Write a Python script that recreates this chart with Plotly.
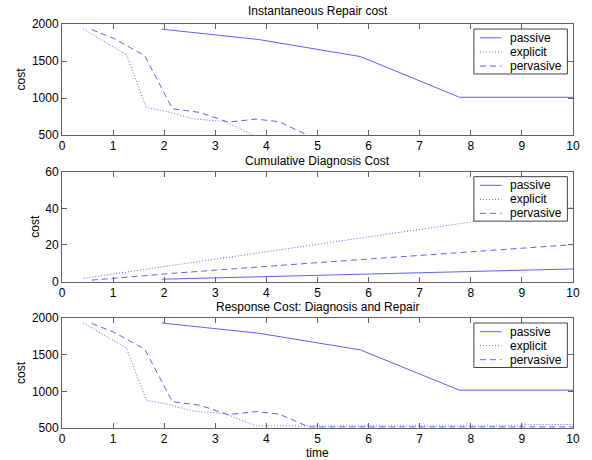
import plotly.graph_objects as go

# ---------------- data ----------------
panel_titles = ["Instantaneous Repair cost", "Cumulative Diagnosis Cost",
                "Response Cost: Diagnosis and Repair"]
series_names = ["passive", "explicit", "pervasive"]
x_ticks = [0, 1, 2, 3, 4, 5, 6, 7, 8, 9, 10]
cost_ticks = [500, 1000, 1500, 2000]
diag_ticks = [0, 20, 40, 60]

passive_time = [1.95, 3.85, 5.84, 7.78, 10.0]
passive_repair = [1930, 1790, 1560, 1010, 1010]
passive_diag = [1.3, 2.6, 4.0, 5.4, 6.9]
passive_response = [1932, 1792, 1565, 1015, 1015]

explicit_time = [0.42, 1.26, 1.65, 2.04, 2.56, 3.20, 3.80, 10.0]
explicit_repair = [1930, 1585, 870, 820, 720, 680, 480, 480]
explicit_diag = [1.8, 5.3, 6.8, 8.4, 10.5, 13.1, 15.5, 40.6]

explicit_resp_time = [0.42, 1.26, 1.65, 2.04, 2.56, 3.20, 3.80, 9.0, 9.0, 10.0]
explicit_response = [1932, 1590, 877, 828, 730, 693, 528, 530, 548, 548]

pervasive_time = [0.58, 1.03, 1.62, 2.16, 2.70, 3.25, 3.80, 4.25, 4.83, 10.0]
pervasive_repair = [1925, 1800, 1570, 855, 805, 675, 715, 680, 490, 490]
pervasive_diag = [0.8, 2.0, 3.2, 4.5, 5.6, 6.8, 8.0, 9.0, 10.0, 20.2]
pervasive_response = [1926, 1802, 1573, 859, 810, 682, 723, 689, 515, 515]

# ---------------- styling ----------------
BLUE = "rgb(95,95,255)"
AXC = "#606060"
FONT = "Arial, Liberation Sans, sans-serif"
DASH = {"passive": "solid", "explicit": "1px,2px", "pervasive": "6px,4px"}

fig = go.Figure()

panels = [
    ("x", "y", [(passive_time, passive_repair), (explicit_time, explicit_repair),
                (pervasive_time, pervasive_repair)]),
    ("x2", "y2", [(passive_time, passive_diag), (explicit_time, explicit_diag),
                  (pervasive_time, pervasive_diag)]),
    ("x3", "y3", [(passive_time, passive_response), (explicit_resp_time, explicit_response),
                  (pervasive_time, pervasive_response)]),
]
for xa, ya, series in panels:
    for name, (t, v) in zip(series_names, series):
        fig.add_trace(go.Scatter(x=t, y=v, mode="lines", name=name, showlegend=False,
                                 line=dict(color=BLUE, width=1, dash=DASH[name]),
                                 xaxis=xa, yaxis=ya))

common = dict(showline=True, linecolor=AXC, linewidth=1, mirror="ticks",
              ticks="inside", ticklen=5, tickcolor=AXC, tickwidth=1,
              showgrid=False, zeroline=False,
              tickfont=dict(family=FONT, size=12, color="black"))

domains = [[0.7252, 1.0], [0.3624, 0.6345], [0.0, 0.2723]]
yranges = [[500, 2000], [0, 60], [500, 2000]]
yticks = [cost_ticks, diag_ticks, cost_ticks]

layout = dict(width=592, height=460, margin=dict(l=62, r=17, t=24, b=32),
              paper_bgcolor="white", plot_bgcolor="white", showlegend=False,
              font=dict(family=FONT, size=12, color="black"))
for i in range(3):
    sfx = "" if i == 0 else str(i + 1)
    layout["xaxis" + sfx] = dict(common, domain=[0, 1], range=[0, 10], tickvals=x_ticks,
                                 anchor="y" + sfx)
    layout["yaxis" + sfx] = dict(common, domain=domains[i], range=yranges[i],
                                 tickvals=yticks[i], anchor="x" + sfx,
                                 title=dict(text="cost", font=dict(family=FONT, size=12),
                                            standoff=3))
fig.update_layout(**layout)

# titles and axis label
shapes = []
annotations = []
title_shift = [4, 2, 2]
for i, title in enumerate(panel_titles):
    sfx = "" if i == 0 else str(i + 1)
    annotations.append(dict(text=title, xref="x%s domain" % sfx, yref="y%s domain" % sfx,
                            x=0.5, y=1, xanchor="center", yanchor="bottom",
                            yshift=title_shift[i], showarrow=False,
                            font=dict(family=FONT, size=12, color="black")))
annotations.append(dict(text="time", xref="x3 domain", yref="y3 domain", x=0.5, y=0,
                        xanchor="center", yanchor="top", yshift=-16, showarrow=False,
                        font=dict(family=FONT, size=12, color="black")))

# legends (box, samples, labels) per panel, in panel-domain coordinates
PH = 110.0  # panel height in px
for i in range(3):
    sfx = "" if i == 0 else str(i + 1)
    xr, yr = "x%s domain" % sfx, "y%s domain" % sfx
    shapes.append(dict(type="rect", xref=xr, yref=yr, x0=0.806, x1=0.989,
                       y0=1 - 49.5 / PH, y1=1 - 5 / PH, fillcolor="white",
                       line=dict(color="#404040", width=1), layer="above"))
    for k, name in enumerate(series_names):
        yy = 1 - (13.7 + 14 * k) / PH
        shapes.append(dict(type="line", xref=xr, yref=yr, x0=0.818, x1=0.860, y0=yy, y1=yy,
                           line=dict(color=BLUE, width=1, dash=DASH[name]), layer="above"))
        annotations.append(dict(text=name, xref=xr, yref=yr, x=0.873, y=yy,
                                xanchor="left", yanchor="middle", showarrow=False,
                                font=dict(family=FONT, size=12, color="black")))
fig.update_layout(shapes=shapes, annotations=annotations)

fig.write_html("out.html")
